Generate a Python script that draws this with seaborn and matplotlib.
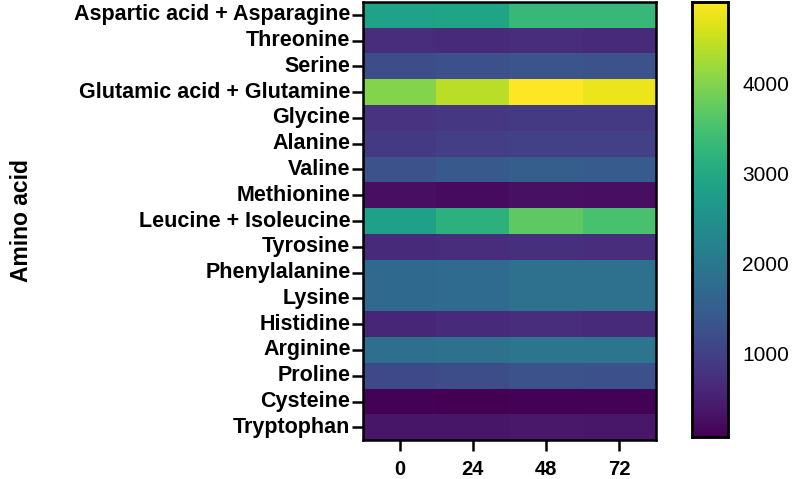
import numpy as np
import pandas as pd
import seaborn as sns
import matplotlib.pyplot as plt

amino_acids = ['Aspartic acid + Asparagine', 'Threonine', 'Serine',
               'Glutamic acid + Glutamine', 'Glycine', 'Alanine', 'Valine',
               'Methionine', 'Leucine + Isoleucine', 'Tyrosine',
               'Phenylalanine', 'Lysine', 'Histidine', 'Arginine', 'Proline',
               'Cysteine', 'Tryptophan']
hours = ['0', '24', '48', '72']

h0 = [2850, 700, 1200, 4000, 800, 900, 1300, 250, 2800, 650, 1700, 1700, 600, 1800, 1150, 100, 350]
h24 = [2900, 650, 1250, 4400, 850, 950, 1400, 220, 3150, 700, 1750, 1750, 650, 1850, 1200, 80, 350]
h48 = [3300, 700, 1350, 4900, 900, 1000, 1500, 280, 3700, 750, 1850, 1850, 700, 1950, 1300, 100, 400]
h72 = [3300, 650, 1300, 4750, 880, 1000, 1450, 260, 3500, 700, 1850, 1850, 650, 1950, 1250, 110, 380]

df = pd.DataFrame({'0': h0, '24': h24, '48': h48, '72': h72}, index=amino_acids)

sns.set_style('white')
plt.rcParams['font.family'] = ['Liberation Sans', 'DejaVu Sans']
plt.rcParams['text.color'] = 'black'
plt.rcParams['axes.labelcolor'] = 'black'
plt.rcParams['xtick.color'] = 'black'
plt.rcParams['ytick.color'] = 'black'

fig = plt.figure(figsize=(7.96, 4.79), dpi=100)
ax = fig.add_axes([0.456, 0.081, 0.368, 0.915])
cax = fig.add_axes([0.869, 0.088, 0.046, 0.908])

sns.heatmap(df, cmap='viridis', ax=ax, cbar_ax=cax,
            cbar_kws={'ticks': [1000, 2000, 3000, 4000]})

ax.set_ylabel('Amino acid', fontsize=16.5, fontweight='bold')
ax.yaxis.set_label_coords(-1.125, 0.5)
ax.set_xlabel('')
ax.tick_params(axis='both', left=True, bottom=True, length=8, width=1.8,
               color='black', direction='out')
ax.tick_params(axis='y', pad=1)
ax.tick_params(axis='x', pad=6)
for lbl in ax.get_yticklabels():
    lbl.set_fontweight('bold')
    lbl.set_fontsize(15.5)
    lbl.set_rotation(0)
for lbl in ax.get_xticklabels():
    lbl.set_fontweight('bold')
    lbl.set_fontsize(14.5)
    lbl.set_rotation(0)
for s in ax.spines.values():
    s.set_visible(True)
    s.set_linewidth(1.8)
    s.set_color('black')

cax.yaxis.set_ticks_position('both')
cax.tick_params(direction='in', left=True, right=True, length=4, width=1.8,
                labelsize=15, pad=10)
for s in cax.spines.values():
    s.set_visible(True)
    s.set_linewidth(1.8)
    s.set_color('black')

fig.savefig('out.png', dpi=100)
